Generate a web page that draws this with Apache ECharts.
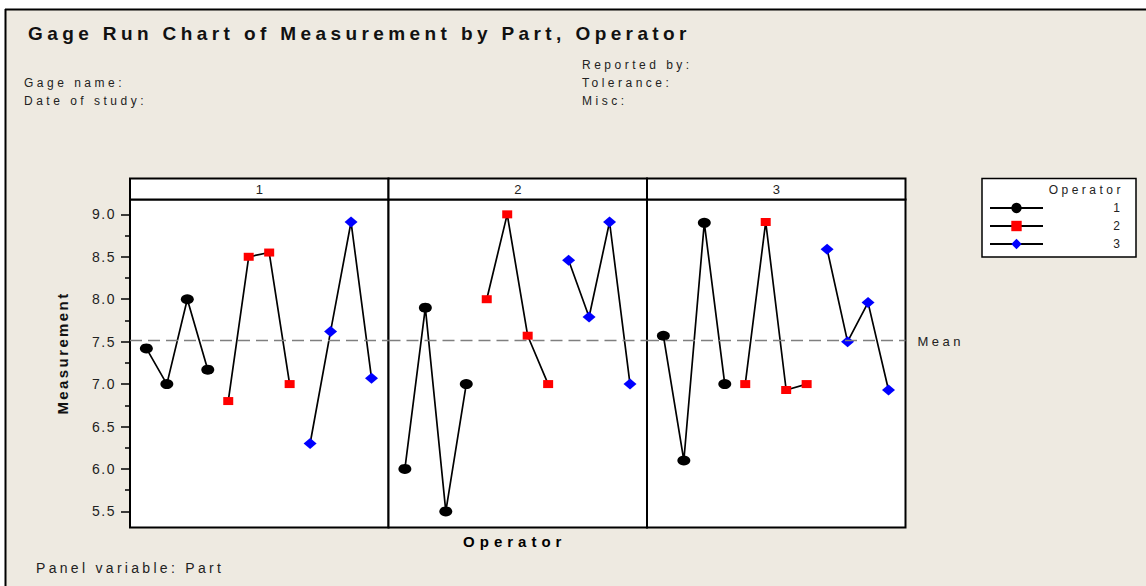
<!DOCTYPE html>
<html><head><meta charset="utf-8">
<script src="https://cdn.jsdelivr.net/npm/echarts@6/dist/echarts.min.js"></script>
<style>html,body{margin:0;padding:0;background:#fff}#c{width:1146px;height:586px}</style>
</head><body><div id="c"></div>
<script>
// ---- data ----
const parts = ['1', '2', '3'];
const operators = ['1', '2', '3'];
const part1_op1 = [7.42, 7.00, 8.00, 7.17];
const part1_op2 = [6.80, 8.50, 8.55, 7.00];
const part1_op3 = [6.30, 7.62, 8.91, 7.07];
const part2_op1 = [6.00, 7.90, 5.50, 7.00];
const part2_op2 = [8.00, 9.00, 7.57, 7.00];
const part2_op3 = [8.46, 7.79, 8.91, 7.00];
const part3_op1 = [7.57, 6.10, 8.90, 7.00];
const part3_op2 = [7.00, 8.91, 6.93, 7.00];
const part3_op3 = [8.59, 7.50, 7.96, 6.93];
const yTickLabels = [5.5, 6.0, 6.5, 7.0, 7.5, 8.0, 8.5, 9.0];
const yMinorTicks = [5.75, 6.25, 6.75, 7.25, 7.75, 8.25, 8.75];

const partData = [
  [part1_op1, part1_op2, part1_op3],
  [part2_op1, part2_op2, part2_op3],
  [part3_op1, part3_op2, part3_op3]
];
const allVals = partData.flat(2);
const meanVal = allVals.reduce((a, b) => a + b, 0) / allVals.length;

// ---- layout ----
const TITLE = 'Gage Run Chart of Measurement by Part, Operator';
const FONT = 'Liberation Sans, Arial, sans-serif';
const panelLeft = [130, 388.5, 647];
const panelW = 258.5;
const gridTop = 199.5, gridBottomY = 527.5;
const stripTop = 178.5;
const yMin = 5.31, yMax = 9.175;
const xMin = 0.2, xMax = 12.83;

const opStyles = [
  { color: '#000000', symbol: 'circle', size: [13, 10] },
  { color: '#ff0000', symbol: 'rect', size: [10, 8] },
  { color: '#0000ff', symbol: 'diamond', size: [13, 11] }
];

const grids = panelLeft.map(l => ({
  left: l, top: gridTop, width: panelW, height: gridBottomY - gridTop,
  show: true, backgroundColor: '#ffffff', borderColor: '#000', borderWidth: 2
}));

const xAxes = panelLeft.map((l, i) => ({
  type: 'value', gridIndex: i, min: xMin, max: xMax,
  axisLine: { show: false }, axisTick: { show: false }, axisLabel: { show: false }, splitLine: { show: false },
  name: i === 1 ? 'Operator' : '', nameLocation: 'middle', nameGap: 6,
  nameTextStyle: { fontFamily: FONT, fontWeight: 'bold', fontSize: 15, color: '#000', padding: [0, 6, 0, 0] }
}));

const yAxes = [
  { type: 'value', gridIndex: 0, min: yMin, max: yMax, position: 'left',
    axisLine: { show: false }, splitLine: { show: false },
    axisTick: { show: true, length: 9, customValues: yTickLabels, lineStyle: { color: '#000', width: 1.5 } },
    axisLabel: { show: true, customValues: yTickLabels, formatter: v => v.toFixed(1), margin: 14,
      fontFamily: FONT, fontSize: 14, color: '#222' } },
  { type: 'value', gridIndex: 0, min: yMin, max: yMax, position: 'left', offset: 0,
    axisLine: { show: false }, splitLine: { show: false },
    axisTick: { show: true, length: 5, customValues: yMinorTicks, lineStyle: { color: '#000', width: 1.5 } },
    axisLabel: { show: false } },
  { type: 'value', gridIndex: 1, min: yMin, max: yMax, show: false, splitLine: { show: false } },
  { type: 'value', gridIndex: 2, min: yMin, max: yMax, show: false, splitLine: { show: false } }
];
const yAxisIdx = [0, 2, 3];

const series = [];
partData.forEach((ops, p) => {
  ops.forEach((vals, o) => {
    const st = opStyles[o];
    const s = {
      type: 'line', name: operators[o], xAxisIndex: p, yAxisIndex: yAxisIdx[p],
      data: vals.map((v, t) => [o * 4 + t + 1, v]),
      symbol: st.symbol, symbolSize: st.size, showSymbol: true,
      lineStyle: { color: '#000', width: 1.7 },
      itemStyle: { color: st.color },
      emphasis: { disabled: true }, animation: false, z: 3
    };
    if (o === 0) {
      s.markLine = {
        silent: true, symbol: 'none', animation: false,
        lineStyle: { color: '#7f7f7f', type: [12, 6], width: 1.3 },
        label: p === 2 ? { show: true, position: 'end', formatter: 'Mean', distance: 12, offset: [0, 2],
          fontFamily: FONT, fontSize: 13, color: '#222' } : { show: false },
        data: [{ yAxis: meanVal }]
      };
    }
    series.push(s);
  });
});

const graphic = [
  { type: 'rect', shape: { x: 0, y: 0, width: 1146, height: 9 }, style: { fill: '#fff' }, silent: true },
  { type: 'rect', shape: { x: 0, y: 0, width: 5, height: 586 }, style: { fill: '#fff' }, silent: true },
  { type: 'line', shape: { x1: 5, y1: 9.5, x2: 1146, y2: 9.5 }, style: { stroke: '#000', lineWidth: 2 }, silent: true },
  { type: 'line', shape: { x1: 5.5, y1: 9, x2: 5.5, y2: 586 }, style: { stroke: '#000', lineWidth: 2 }, silent: true },
  { type: 'text', x: 28, y: 33, style: { text: TITLE, font: 'bold 19px ' + FONT, fill: '#111', textVerticalAlign: 'middle' } },
  { type: 'text', x: 24, y: 83, style: { text: 'Gage name:', font: '12px ' + FONT, fill: '#222', textVerticalAlign: 'middle' } },
  { type: 'text', x: 24, y: 101, style: { text: 'Date of study:', font: '12px ' + FONT, fill: '#222', textVerticalAlign: 'middle' } },
  { type: 'text', x: 582, y: 65, style: { text: 'Reported by:', font: '12px ' + FONT, fill: '#222', textVerticalAlign: 'middle' } },
  { type: 'text', x: 582, y: 83, style: { text: 'Tolerance:', font: '12px ' + FONT, fill: '#222', textVerticalAlign: 'middle' } },
  { type: 'text', x: 582, y: 101, style: { text: 'Misc:', font: '12px ' + FONT, fill: '#222', textVerticalAlign: 'middle' } },
  { type: 'text', x: 36, y: 568, style: { text: 'Panel variable: Part', font: '14px ' + FONT, fill: '#222', textVerticalAlign: 'middle' } },
  { type: 'text', x: 62, y: 353, rotation: Math.PI / 2, style: { text: 'Measurement', font: 'bold 15px ' + FONT, fill: '#111', textAlign: 'center', textVerticalAlign: 'middle' } },
  { type: 'rect', shape: { x: 982, y: 178.5, width: 154, height: 78.5 }, style: { fill: '#fff', stroke: '#000', lineWidth: 1.5 }, silent: true, z: 1 },
  { type: 'text', x: 1124, y: 190, style: { text: 'Operator', font: '12px ' + FONT, fill: '#222', textAlign: 'right', textVerticalAlign: 'middle' }, z: 2 }
];
panelLeft.forEach((l, i) => {
  graphic.push({ type: 'rect', shape: { x: l, y: stripTop, width: panelW, height: gridTop - stripTop },
    style: { fill: '#fff', stroke: '#000', lineWidth: 2 }, silent: true });
  graphic.push({ type: 'text', x: l + panelW / 2, y: (stripTop + gridTop) / 2 + 0.5,
    style: { text: parts[i], font: '13px ' + FONT, fill: '#222', textAlign: 'center', textVerticalAlign: 'middle' } });
});

const chart = echarts.init(document.getElementById('c'), null, { renderer: 'svg' });
chart.setOption({
  backgroundColor: '#EEEAE1',
  animation: false,
  grid: grids, xAxis: xAxes, yAxis: yAxes, series: series,
  legend: {
    data: operators, orient: 'vertical', left: 989, top: 202, padding: 0,
    itemWidth: 53, itemHeight: 13, itemGap: 6,
    selectedMode: false, z: 10,
    formatter: '{a|{name}}',
    textStyle: { fontFamily: FONT, fontSize: 12, color: '#222',
      rich: { a: { width: 72, align: 'right', fontFamily: FONT, fontSize: 12, color: '#222' } } }
  },
  graphic: graphic
});

// Minitab-like letter spacing for text
function applySpacing() {
  document.querySelectorAll('#c svg text').forEach(t => {
    const s = (t.textContent || '').trim();
    const cs = getComputedStyle(t);
    const bold = cs.fontWeight === 'bold' || parseInt(cs.fontWeight, 10) >= 600;
    let ls = 0;
    if (s === TITLE) ls = 4.4;
    else if (s === 'Operator' && bold) ls = 5;
    else if (s === 'Measurement') ls = 2.4;
    else if (/^\d\.\d$/.test(s)) ls = 1.5;
    else if (s.length <= 1) ls = 0;
    else if (s.indexOf('Panel') === 0) ls = 3.3;
    else ls = 3.5;
    if (ls) t.setAttribute('letter-spacing', ls);
  });
}
chart.on('finished', applySpacing);
setTimeout(applySpacing, 50);
</script></body></html>
